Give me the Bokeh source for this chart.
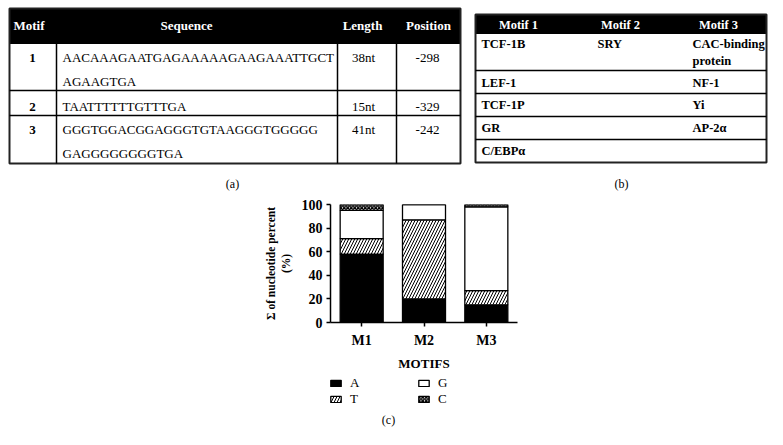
from bokeh.plotting import figure
from bokeh.models import Range1d, FactorRange, Legend, LegendItem, Spacer, Label
from bokeh.layouts import column, row
from bokeh.core.properties import value
from bokeh.embed import file_html
from bokeh.resources import INLINE

SERIF = "Liberation Serif"

# ---------------- data ----------------
# table (a)
table_a_headers = ["Motif", "Sequence", "Length", "Position"]
motif_ids = ["1", "2", "3"]
sequences = ["AACAAAGAATGAGAAAAAGAAGAAATTGCT\nAGAAGTGA",
             "TAATTTTTTGTTTGA",
             "GGGTGGACGGAGGGTGTAAGGGTGGGGG\nGAGGGGGGGGTGA"]
lengths = ["38nt", "15nt", "41nt"]
positions = ["-298", "-329", "-242"]

# table (b)
table_b_headers = ["Motif 1", "Motif 2", "Motif 3"]
motif1_tf = ["TCF-1B", "LEF-1", "TCF-1P", "GR", "C/EBPα"]
motif2_tf = ["SRY", "", "", "", ""]
motif3_tf = ["CAC-binding\nprotein", "NF-1", "Yi", "AP-2α", ""]

# chart (c)
motifs = ["M1", "M2", "M3"]
nucleotides = ["A", "T", "G", "C"]
pct_A = [58, 20, 15]
pct_T = [13, 67, 12]
pct_G = [24, 13, 71]
pct_C = [5, 0, 2]
y_ticks = [0, 20, 40, 60, 80, 100]

fills = ["black", "white", "white", "white"]
hatches = [" ", "/", " ", "x"]
hscales = [6, 6, 6, 3.5]
hweights = [1, 1, 1, 1.4]

# ---------------- top canvas with the two tables ----------------
top = figure(width=783, height=195, x_range=Range1d(0, 783), y_range=Range1d(195, 0),
             x_axis_location=None, y_axis_location=None, output_backend="svg",
             toolbar_location=None, min_border=0)
top.grid.visible = False
top.outline_line_color = None


def put_text(fig, x, y, txt, align="left", size="13px", style="normal", color="black", lh=24):
    for k, line in enumerate(txt.split("\n")):
        fig.text(x=[x], y=[y + k * lh], text=[line], text_align=align, text_baseline="middle",
                 text_font=value(SERIF), text_font_size=size, text_font_style=style,
                 text_color=color)


# table (a)
ax0, ax1, ay0, ay1, ahead = 9, 460, 8, 163, 43
top.quad(left=ax0, right=ax1, top=ay0, bottom=ahead, fill_color="black", line_color="black")
top.quad(left=ax0, right=ax1, top=ay0, bottom=ay1, fill_color=None, line_color="#222222", line_width=2)
for xv in [56, 337, 396]:
    top.segment(x0=xv, y0=ahead, x1=xv, y1=ay1, line_color="black", line_width=1.5)
for yv in [90, 115]:
    top.segment(x0=ax0, y0=yv, x1=ax1, y1=yv, line_color="black", line_width=1.5)
hx = [(13, "left"), (186, "center"), (362, "center"), (428, "center")]
for (x, al), h in zip(hx, table_a_headers):
    put_text(top, x, 25, h, align=al, size="13px", style="bold", color="white")
row_y_a = [57, 106, 129]
for i in range(len(motif_ids)):
    put_text(top, 32, row_y_a[i], motif_ids[i], align="center", style="bold", size="13px")
    put_text(top, 62, row_y_a[i], sequences[i], size="13px")
    put_text(top, 363, row_y_a[i], lengths[i], align="center", size="13px")
    put_text(top, 427, row_y_a[i], positions[i], align="center", size="13px")
put_text(top, 232, 183, "(a)", align="center", size="12px")

# table (b)
bx0, bx1, by0, by1, bhead = 475, 766, 14, 162, 33
top.quad(left=bx0, right=bx1, top=by0, bottom=bhead, fill_color="black", line_color="black")
top.quad(left=bx0, right=bx1, top=by0, bottom=by1, fill_color=None, line_color="#222222", line_width=2)
for yv in [70, 93, 116, 139]:
    top.segment(x0=bx0, y0=yv, x1=bx1, y1=yv, line_color="black", line_width=1.5)
for x, h in zip([518, 620, 718], table_b_headers):
    put_text(top, x, 24, h, align="center", size="12.5px", style="bold", color="white")
row_y_b = [43, 82, 104, 127, 150]
for i in range(len(motif1_tf)):
    for x, col in zip([481, 597, 692], [motif1_tf, motif2_tf, motif3_tf]):
        if col[i]:
            put_text(top, x, row_y_b[i], col[i], size="12.5px", style="bold", lh=17)
put_text(top, 621, 183, "(b)", align="center", size="12px")

# ---------------- chart (c) ----------------
data = dict(motif=motifs, A=pct_A, T=pct_T, G=pct_G, C=pct_C)
bar_style = dict(x="motif", width=0.69, source=data, fill_color=fills, line_color="black",
                 line_width=1.3, hatch_pattern=hatches, hatch_color="black",
                 hatch_scale=hscales, hatch_weight=hweights)
chart = figure(x_range=FactorRange(*motifs), y_range=Range1d(0, 100),
               frame_width=187, frame_height=118, min_border_left=79, min_border_right=20,
               min_border_top=9, min_border_bottom=52,
               output_backend="svg", toolbar_location=None)
rs = chart.vbar_stack(nucleotides, **bar_style)
chart.xgrid.visible = False
chart.ygrid.visible = False
chart.outline_line_color = None
chart.yaxis.ticker = y_ticks
chart.axis.axis_line_width = 1.5
chart.axis.major_tick_line_width = 1.5
chart.axis.major_tick_out = 4
chart.axis.major_tick_in = 0
chart.axis.minor_tick_line_color = None
chart.axis.major_label_text_font = SERIF
chart.axis.major_label_text_font_size = "14px"
chart.axis.major_label_text_font_style = "bold"
chart.axis.major_label_text_color = "black"
chart.axis.axis_label_text_font = SERIF
chart.axis.axis_label_text_font_style = "bold"
chart.axis.axis_label_text_color = "black"
chart.yaxis.major_label_standoff = 4
chart.xaxis.major_label_standoff = 6
chart.yaxis.axis_label = "Σ of nucleotide percent\n(%)"
chart.yaxis.axis_label_text_font_size = "11.5px"
chart.yaxis.axis_label_standoff = 7
chart.xaxis.axis_label = "MOTIFS"
chart.xaxis.axis_label_text_font_size = "13px"
chart.xaxis.axis_label_standoff = 5

# ---------------- legend + (c) canvas ----------------
cap = figure(width=287, height=64, x_range=FactorRange(*motifs), y_range=Range1d(0, 100),
             x_axis_location=None, y_axis_location=None, output_backend="svg",
             toolbar_location=None, min_border=0)
cap.grid.visible = False
cap.outline_line_color = None
# legend keys only: same bars, hidden
keys = cap.vbar_stack(nucleotides, visible=False, **bar_style)
legend_style = dict(orientation="vertical", glyph_width=13, glyph_height=8, label_height=14,
                    label_standoff=8, spacing=0, padding=0, margin=0,
                    border_line_color=None, background_fill_alpha=0,
                    label_text_font=SERIF, label_text_font_size="13px",
                    label_text_color="black")
cap.add_layout(Legend(items=[LegendItem(label=nucleotides[i], renderers=[keys[i]]) for i in (0, 1)],
                      location=(79, 31), **legend_style))
cap.add_layout(Legend(items=[LegendItem(label=nucleotides[i], renderers=[keys[i]]) for i in (2, 3)],
                      location=(167, 31), **legend_style))
cap.add_layout(Label(x=138, y=19, x_units="screen", y_units="screen", text="(c)",
                     text_align="center", text_baseline="middle", text_font=SERIF,
                     text_font_size="12px", text_color="black"))

layout = column(top, row(Spacer(width=251, height=10), chart), row(Spacer(width=250, height=10), cap))
open("out.html", "w").write(file_html(layout, INLINE))
